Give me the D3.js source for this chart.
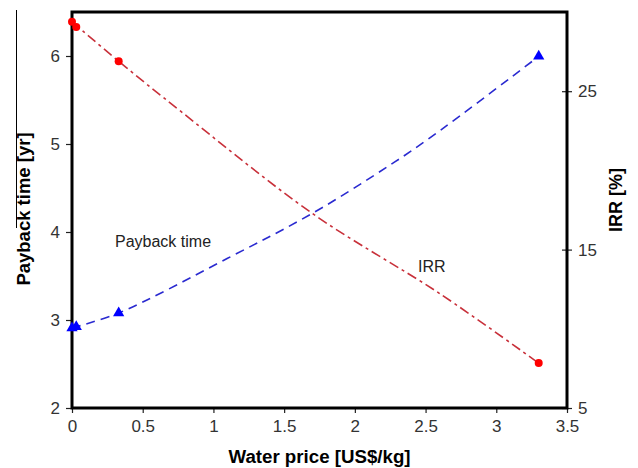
<!DOCTYPE html>
<html>
<head>
<meta charset="utf-8">
<script src="https://cdn.jsdelivr.net/npm/d3@7"></script>
<style>
  body { margin: 0; background: #fff; }
  text { font-family: "Liberation Sans", Arial, sans-serif; }
</style>
</head>
<body>
<div id="chart"></div>
<script>
// measured points (markers)
var waterPrice = [0, 0.03, 0.33, 3.3];
var paybackTime = [6.39, 6.33, 5.94, 2.51];
var irrValues = [10.05, 10.13, 11.0, 27.2];

// dashed curves
var paybackCurveX = [0, 0.33, 0.77, 1.70, 2.60, 3.3];
var paybackCurveY = [6.39, 5.94, 5.37, 4.21, 3.30, 2.51];
var irrCurveX = [0, 0.33, 1.1, 1.7, 2.14, 2.51, 3.3];
var irrCurveY = [10.05, 11.0, 14.45, 17.29, 19.71, 21.92, 27.2];

// ticks
var xTicks = [0, 0.5, 1, 1.5, 2, 2.5, 3, 3.5];
var leftTicks = [2, 3, 4, 5, 6];
var rightTicks = [5, 15, 25];

var width = 638, height = 468;
var margin = {top: 12, right: 71, bottom: 60, left: 72};
var w = width - margin.left - margin.right;
var h = height - margin.top - margin.bottom;

var svg = d3.select("#chart").append("svg")
    .attr("width", width)
    .attr("height", height);

// stray line on the left edge of the original image
svg.append("line")
    .attr("x1", 16.5).attr("x2", 16.5)
    .attr("y1", 10).attr("y2", 228)
    .attr("stroke", "#000").attr("stroke-width", 1);

var g = svg.append("g")
    .attr("transform", "translate(" + margin.left + "," + margin.top + ")");

var x = d3.scaleLinear().domain([0, 3.5]).range([0, w]);
var yL = d3.scaleLinear().domain([2, 6.5]).range([h, 0]);
var yR = d3.scaleLinear().domain([5, 30]).range([h, 0]);

// axes
var xAxis = g.append("g")
    .attr("transform", "translate(0," + h + ")")
    .call(d3.axisBottom(x).tickValues(xTicks).tickSize(5).tickPadding(7).tickFormat(d3.format("")));
var leftAxis = g.append("g")
    .call(d3.axisLeft(yL).tickValues(leftTicks).tickSize(6).tickPadding(6).tickFormat(d3.format("d")));
var rightAxis = g.append("g")
    .attr("transform", "translate(" + w + ",0)")
    .call(d3.axisRight(yR).tickValues(rightTicks).tickSize(5).tickPadding(6).tickFormat(d3.format("d")));

rightAxis.selectAll(".tick line").attr("x1", -5);

[xAxis, leftAxis, rightAxis].forEach(function(a) {
  a.select(".domain").remove();
  a.selectAll(".tick line").attr("stroke", "#222").attr("stroke-width", 1.2);
  a.selectAll(".tick text")
    .attr("fill", "#333")
    .style("font-size", "17px")
    .style("font-family", "'Liberation Sans', Arial, sans-serif");
});

// frame
g.append("rect")
    .attr("x", 0).attr("y", 0)
    .attr("width", w).attr("height", h)
    .attr("fill", "none")
    .attr("stroke", "#000")
    .attr("stroke-width", 3);

// dashed curves
var paybackLine = d3.line()
    .x(function(d, i) { return x(paybackCurveX[i]); })
    .y(function(d) { return yL(d); })
    .curve(d3.curveCatmullRom.alpha(0.5));
var irrLine = d3.line()
    .x(function(d, i) { return x(irrCurveX[i]); })
    .y(function(d) { return yR(d); })
    .curve(d3.curveCatmullRom.alpha(0.5));

g.append("path")
    .attr("d", paybackLine(paybackCurveY))
    .attr("fill", "none")
    .attr("stroke", "#c8303a")
    .attr("stroke-width", 1.6)
    .attr("stroke-dasharray", "10,4,3,4");
g.append("path")
    .attr("d", irrLine(irrCurveY))
    .attr("fill", "none")
    .attr("stroke", "#2a2ad0")
    .attr("stroke-width", 1.6)
    .attr("stroke-dasharray", "9,6");

// markers
g.selectAll("circle.pb")
    .data(paybackTime)
    .enter()
    .append("circle")
    .attr("class", "pb")
    .attr("cx", function(d, i) { return x(waterPrice[i]); })
    .attr("cy", function(d) { return yL(d); })
    .attr("r", 4)
    .attr("fill", "#ff0000");

var tri = d3.symbol().type(d3.symbolTriangle).size(55);
g.selectAll("path.irr")
    .data(irrValues)
    .enter()
    .append("path")
    .attr("class", "irr")
    .attr("d", tri)
    .attr("transform", function(d, i) {
      return "translate(" + x(waterPrice[i]) + "," + yR(d) + ")";
    })
    .attr("fill", "#0000ff");

// inline labels
g.append("text")
    .attr("x", 43).attr("y", 235)
    .style("font-size", "16px")
    .attr("fill", "#222")
    .text("Payback time");
g.append("text")
    .attr("x", 346).attr("y", 260)
    .style("font-size", "16px")
    .attr("fill", "#222")
    .text("IRR");

// axis titles
svg.append("text")
    .attr("x", margin.left + w / 2)
    .attr("y", 463)
    .attr("text-anchor", "middle")
    .style("font-size", "18.7px")
    .style("font-weight", "bold")
    .text("Water price [US$/kg]");
svg.append("text")
    .attr("transform", "translate(30," + 209 + ") rotate(-90)")
    .attr("text-anchor", "middle")
    .style("font-size", "18.5px")
    .style("font-weight", "bold")
    .text("Payback time [yr]");
svg.append("text")
    .attr("transform", "translate(622," + 200 + ") rotate(-90)")
    .attr("text-anchor", "middle")
    .style("font-size", "18px")
    .style("font-weight", "bold")
    .text("IRR [%]");
</script>
</body>
</html>
